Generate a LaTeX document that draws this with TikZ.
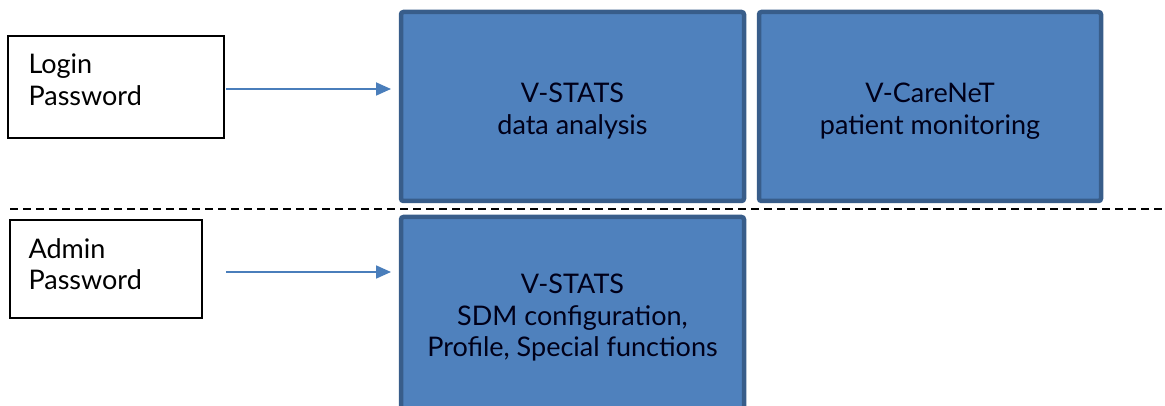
\documentclass[tikz,border=0pt]{standalone}
\usepackage{fontspec}
\setmainfont{Lato}
\usetikzlibrary{arrows.meta}
\definecolor{boxfill}{HTML}{4F81BD}
\definecolor{boxline}{HTML}{385D8A}
\definecolor{arrowc}{HTML}{4A7EBB}
\tikzset{
  x=1pt, y=-1pt,
  txt/.style={font=\fontsize{27}{31.5}\selectfont},
  bluebox/.style={draw=boxline, fill=boxfill, line width=4.5pt, rounded corners=2.5pt},
  plainbox/.style={draw=black, line width=1.3pt},
  bluetxt/.style={txt, align=center, text=black!90!blue},
  conn/.style={draw=arrowc, line width=1.8pt, -{Triangle[length=15pt,width=13pt]}},
  sep/.style={draw=black, line width=1.6pt, dash pattern=on 8pt off 5pt}
}
\begin{document}
\begin{tikzpicture}
\useasboundingbox (0,0) rectangle (1165,406);
\clip (0,0) rectangle (1165,406);
% left boxes
\draw[plainbox] (8,36) rectangle (224,138);
\node[txt, anchor=west, align=left] (login) at (25,80) {Login\\Password};
\draw[plainbox] (10,220) rectangle (202,318);
\node[txt, anchor=west, align=left] (admin) at (25,264) {Admin\\Password};
% blue boxes
\draw[bluebox] (401,12) rectangle (744,201);
\node[bluetxt] (vstats) at (572.5,111) {V-STATS\\data analysis};
\draw[bluebox] (759,12) rectangle (1101,201);
\node[bluetxt] (vcare) at (930,111) {V-CareNeT\\patient monitoring};
\draw[bluebox] (401,217) rectangle (744,414);
\node[bluetxt] (vadmin) at (572.5,318) {V-STATS\\SDM configuration,\\Profile, Special functions};
% arrow anchors
\coordinate (a1s) at (226,89);
\coordinate (a1e) at (391,89);
\coordinate (a2s) at (226,272);
\coordinate (a2e) at (391,272);
\draw[conn] (a1s) -- (a1e);
\draw[conn] (a2s) -- (a2e);
% separator
\coordinate (d1) at (10,209);
\coordinate (d2) at (1165,209);
\draw[sep] (d1) -- (d2);
\end{tikzpicture}
\end{document}
